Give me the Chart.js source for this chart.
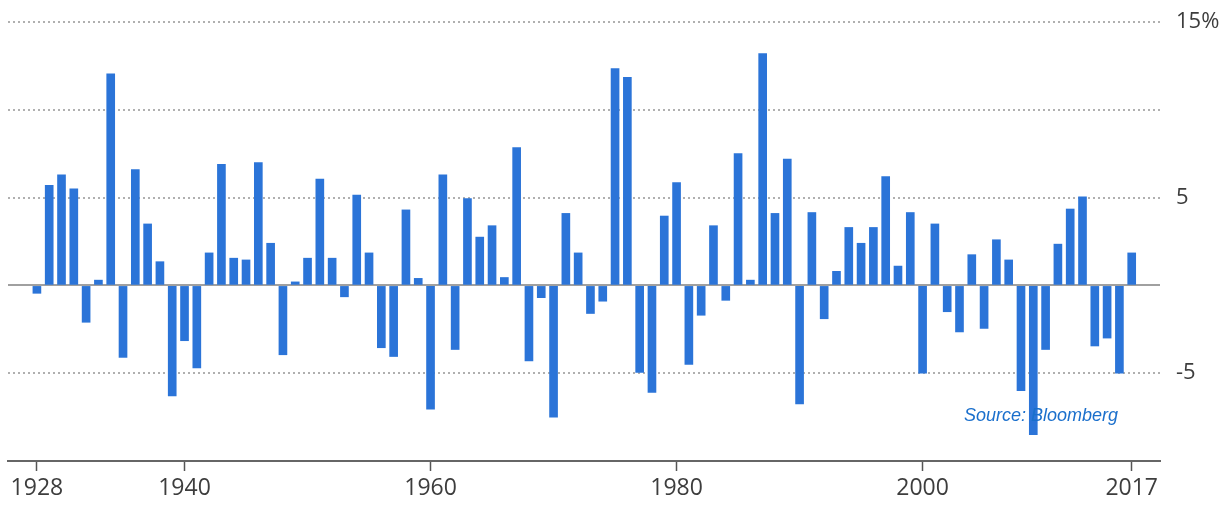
<!DOCTYPE html>
<html>
<head>
<meta charset="utf-8">
<script src="https://cdn.jsdelivr.net/npm/chart.js@4"></script>
<style>
    html, body { margin: 0; padding: 0; background: #fff; }
    #wrap { position: relative; width: 1226px; height: 505px; }
    #source {
        position: absolute; left: 964px; top: 405px;
        font: italic 18px "Liberation Sans", Arial, sans-serif;
        color: #1a6fcc;
    }
</style>
</head>
<body>
<div id="wrap">
    <canvas id="chart" width="1226" height="505"></canvas>
    <div id="source">Source: Bloomberg</div>
</div>
<script>
// Yearly values, 1928 - 2017 (%)
const firstYear = 1928;
const values = [
    -0.45, 5.7, 6.3, 5.5, -2.1, 0.3, 12.05, -4.1, 6.6, 3.5,      // 1928-1937
    1.35, -6.3, -3.15, -4.7, 1.85, 6.9, 1.55, 1.45, 7.0, 2.4,    // 1938-1947
    -3.95, 0.2, 1.55, 6.05, 1.55, -0.65, 5.15, 1.85, -3.55, -4.05, // 1948-1957
    4.3, 0.4, -7.05, 6.3, -3.65, 4.95, 2.75, 3.4, 0.45, 7.85,    // 1958-1967
    -4.3, -0.7, -7.5, 4.1, 1.85, -1.6, -0.9, 12.35, 11.85, -4.95, // 1968-1977
    -6.1, 3.95, 5.85, -4.5, -1.7, 3.4, -0.85, 7.5, 0.3, 13.2,    // 1978-1987
    4.1, 7.2, -6.75, 4.15, -1.9, 0.8, 3.3, 2.4, 3.3, 6.2,        // 1988-1997
    1.1, 4.15, -5.0, 3.5, -1.5, -2.65, 1.75, -2.45, 2.6, 1.45,   // 1998-2007
    -6.0, -8.5, -3.65, 2.35, 4.35, 5.05, -3.45, -3.0, -5.0, 1.85 // 2008-2017
];
const years = values.map((v, i) => firstYear + i);
const xTickYears = [1928, 1940, 1960, 1980, 2000, 2017];
const yTickValues = [-10, -5, 0, 5, 10, 15];
const yTickLabels = { "15": "15%", "5": "5", "-5": "-5" };

const barColor = "#2b74d8";
const textColor = "#3d3d3d";
const fontFamily = "'Open Sans', 'Noto Sans', sans-serif";

new Chart(document.getElementById("chart"), {
    type: "bar",
    data: {
        datasets: [{
            data: years.map((y, i) => ({ x: y, y: values[i] })),
            backgroundColor: barColor,
            borderWidth: 0,
            barThickness: 8,
        }]
    },
    options: {
        responsive: false,
        animation: false,
        layout: { padding: { left: 8, top: 22, right: 0, bottom: 0 } },
        plugins: { legend: { display: false }, tooltip: { enabled: false } },
        scales: {
            x: {
                type: "linear",
                offset: false,
                min: 1925.65,
                max: 2019.3,
                afterBuildTicks: s => { s.ticks = xTickYears.map(v => ({ value: v })); },
                afterFit: s => { s.height = 44; },
                grid: { offset: false, drawOnChartArea: false, drawTicks: true, tickLength: 10, tickColor: "#555", tickWidth: 1.5 },
                border: { color: "#666", width: 2 },
                ticks: {
                    autoSkip: false, maxRotation: 0, padding: 4,
                    color: textColor, font: { family: fontFamily, size: 23 },
                    callback: v => String(v)
                }
            },
            y: {
                position: "right",
                min: -10,
                max: 15,
                afterBuildTicks: s => { s.ticks = yTickValues.map(v => ({ value: v })); },
                afterFit: s => { s.width = 66; s.paddingTop = 0; s.paddingBottom = 0; },
                grid: {
                    drawTicks: false,
                    lineWidth: 2,
                    color: c => c.tick.value === -10 ? "rgba(0,0,0,0)" : (c.tick.value === 0 ? "#a0a0a0" : "#b0b0b0")
                },
                border: {
                    display: false,
                    dash: c => c.tick && c.tick.value === 0 ? [] : [2, 3]
                },
                ticks: {
                    padding: 16, crossAlign: "near",
                    color: textColor, font: { family: fontFamily, size: 22 },
                    callback: v => yTickLabels[String(v)] || ""
                }
            }
        }
    }
});
</script>
</body>
</html>
